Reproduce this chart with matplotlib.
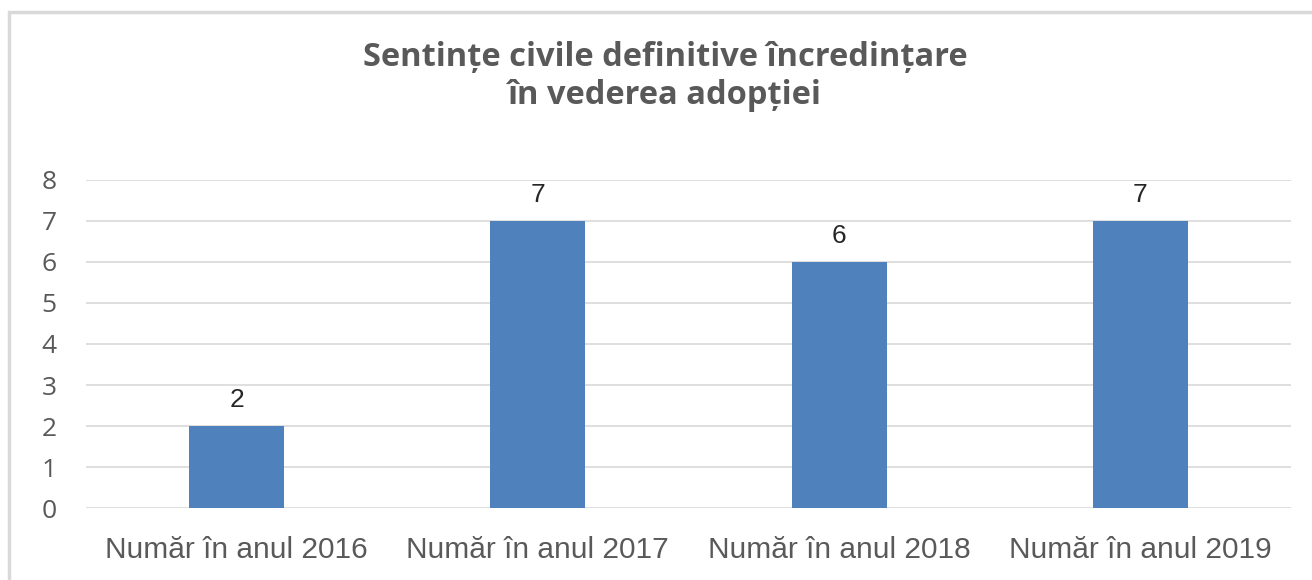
import numpy as np
import matplotlib.pyplot as plt
from matplotlib.patches import Rectangle

categories = ["Număr în anul 2016", "Număr în anul 2017",
              "Număr în anul 2018", "Număr în anul 2019"]
values = [2, 7, 6, 7]
title = "Sentințe civile definitive încredințare\nîn vederea adopției"

fig = plt.figure(figsize=(13.12, 5.80), dpi=100)
ax = fig.add_axes([0.0655, 0.1241, 0.9185, 0.5656])

# chart border (only left/top visible in the reference)
fig.patches.append(Rectangle((9 / 1312, -0.05), 1.2, 568 / 580 + 0.05,
                             transform=fig.transFigure, fill=False,
                             edgecolor="#D9D9D9", linewidth=2.5))

x = np.arange(len(categories))
ax.bar(x, values, width=0.316, color="#4F81BD", zorder=3)
for xi, v in zip(x, values):
    ax.text(xi, v + 0.33, str(v), ha="center", va="bottom",
            fontsize=19, color="#262626", family="Liberation Sans")

ax.set_xlim(-0.5, len(categories) - 0.5)
ax.set_ylim(0, 8)
ax.set_yticks(range(0, 9))
ax.set_xticks(x)
ax.set_xticklabels(categories, fontsize=21.5, color="#595959",
                   family="Liberation Sans")
for lbl in ax.get_yticklabels():
    lbl.set_fontsize(19)
    lbl.set_color("#595959")
    lbl.set_family("Open Sans")
ax.tick_params(length=0)
ax.tick_params(axis="x", pad=20)
ax.tick_params(axis="y", pad=21)
ax.grid(axis="y", color="#D9D9D9", linewidth=1.2, zorder=0)
for s in ax.spines.values():
    s.set_visible(False)

fig.text(0.507, 0.868, title, ha="center", va="center", fontsize=23.5,
         fontweight="bold", color="#595959", family="Open Sans",
         linespacing=1.2)

plt.savefig("out.png", dpi=100)
